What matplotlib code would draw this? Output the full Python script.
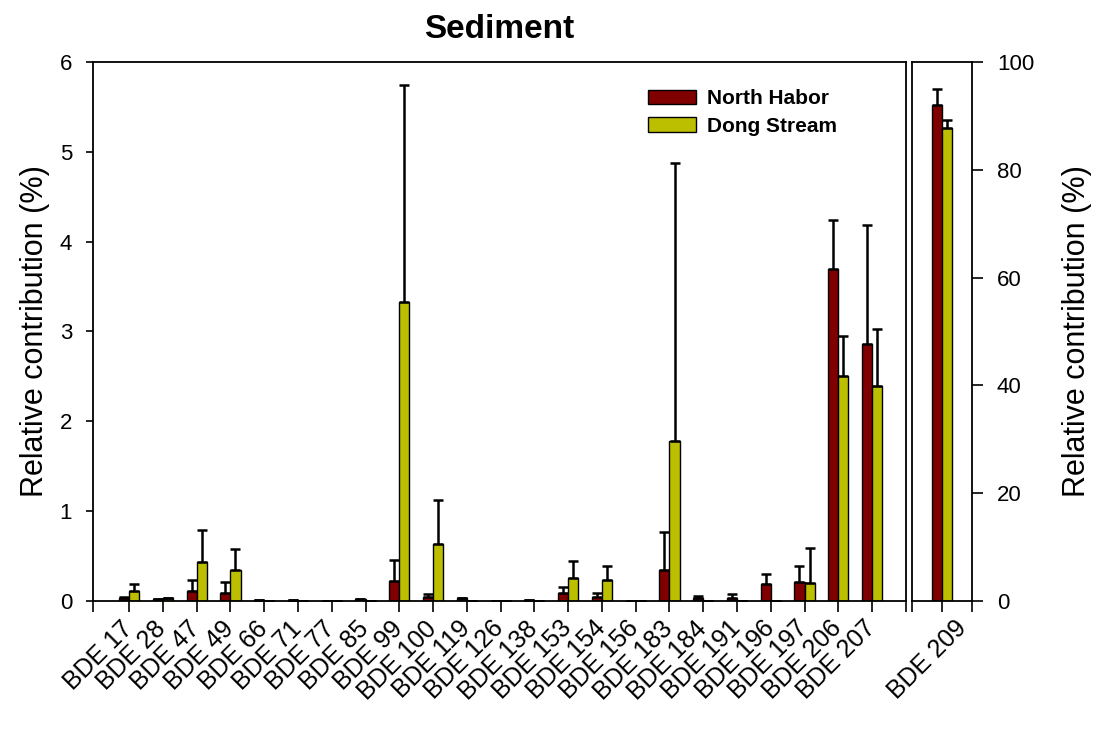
import numpy as np
import matplotlib
matplotlib.use("Agg")
import matplotlib.pyplot as plt
import matplotlib.transforms as mtransforms

plt.rcParams['font.family'] = ['Liberation Sans', 'DejaVu Sans']

congeners = ["BDE 17", "BDE 28", "BDE 47", "BDE 49", "BDE 66", "BDE 71", "BDE 77",
             "BDE 85", "BDE 99", "BDE 100", "BDE 119", "BDE 126", "BDE 138", "BDE 153",
             "BDE 154", "BDE 156", "BDE 183", "BDE 184", "BDE 191", "BDE 196", "BDE 197",
             "BDE 206", "BDE 207"]
north_habor = [0.03, 0.02, 0.11, 0.085, 0.01, 0.01, 0.0, 0.02, 0.22, 0.04, 0.03, 0.0,
               0.01, 0.085, 0.05, 0.0, 0.34, 0.03, 0.03, 0.19, 0.21, 3.69, 2.86]
north_habor_err = [0.02, 0.0, 0.12, 0.125, 0.0, 0.0, 0.0, 0.0, 0.24, 0.035, 0.0, 0.0,
                   0.0, 0.075, 0.04, 0.0, 0.43, 0.03, 0.05, 0.11, 0.18, 0.55, 1.33]
dong_stream = [0.11, 0.03, 0.43, 0.35, 0.0, 0.0, 0.0, 0.0, 3.33, 0.64, 0.0, 0.0,
               0.0, 0.26, 0.23, 0.0, 1.78, 0.0, 0.0, 0.0, 0.20, 2.50, 2.39]
dong_stream_err = [0.08, 0.0, 0.36, 0.23, 0.0, 0.0, 0.0, 0.0, 2.41, 0.48, 0.0, 0.0,
                   0.0, 0.18, 0.16, 0.0, 3.10, 0.0, 0.0, 0.0, 0.39, 0.45, 0.64]

big_label = ["BDE 209"]
big_north = [92.0]
big_north_err = [2.9]
big_dong = [87.7]
big_dong_err = [1.5]

red = '#800000'
green = '#bcbf00'
w = 0.3

fig = plt.figure(figsize=(10.94, 7.52), dpi=100)
ax = fig.add_axes([0.085, 0.2008, 0.743, 0.7168])
ax2 = fig.add_axes([0.8336, 0.2008, 0.0548, 0.7168])

x = np.arange(len(congeners))
ekw = dict(elinewidth=1.8, capthick=1.8, ecolor='black')
ax.bar(x - w / 2, north_habor, w, color=red, edgecolor='black', linewidth=1,
       yerr=[np.zeros(len(x)), north_habor_err], capsize=3.6, error_kw=ekw, label='North Habor')
ax.bar(x + w / 2, dong_stream, w, color=green, edgecolor='black', linewidth=1,
       yerr=[np.zeros(len(x)), dong_stream_err], capsize=3.6, error_kw=ekw, label='Dong Stream')
ax.set_xlim(-1.07, 23.0)
ax.set_ylim(0, 6)
ax.set_xticks(x)
ax.set_xticklabels(congeners, rotation=45, ha='right', va='top', rotation_mode='anchor', fontsize=18)
ax.set_xticks([-1.07, 23.0], minor=True)
ax.tick_params(axis='y', labelsize=16, direction='out', length=5, width=1.2, pad=10)
ax.tick_params(axis='x', which='both', direction='out', length=8, width=1.2, pad=3)
ax.set_ylabel('Relative contribution (%)', fontsize=22, labelpad=7)
ax.set_title('Sediment', fontsize=24, fontweight='bold', x=0.5, pad=17)
for s in ax.spines.values():
    s.set_linewidth(1.3)
shift = mtransforms.ScaledTranslation(-9 / 100, 0, fig.dpi_scale_trans)
for lab in ax.get_xticklabels():
    lab.set_transform(lab.get_transform() + shift)

x2 = np.arange(len(big_label))
ax2.bar(x2 - w / 2, big_north, w, color=red, edgecolor='black', linewidth=1,
        yerr=[[0], big_north_err], capsize=3.6, error_kw=ekw)
ax2.bar(x2 + w / 2, big_dong, w, color=green, edgecolor='black', linewidth=1,
        yerr=[[0], big_dong_err], capsize=3.6, error_kw=ekw)
ax2.set_xlim(-0.9, 0.9)
ax2.set_ylim(0, 100)
ax2.set_xticks(x2)
ax2.set_xticklabels(big_label, rotation=45, ha='right', va='top', rotation_mode='anchor', fontsize=18)
ax2.set_xticks([-0.9, 0.9], minor=True)
ax2.yaxis.tick_right()
ax2.yaxis.set_label_position('right')
ax2.set_yticks([0, 20, 40, 60, 80, 100])
ax2.tick_params(axis='y', labelsize=16, direction='out', length=8, width=1.2, pad=10)
ax2.tick_params(axis='x', which='both', direction='out', length=8, width=1.2, pad=3)
ax2.set_ylabel('Relative contribution (%)', fontsize=22, labelpad=20)
for s in ax2.spines.values():
    s.set_linewidth(1.3)
shift2 = mtransforms.ScaledTranslation(12 / 100, 0, fig.dpi_scale_trans)
for lab in ax2.get_xticklabels():
    lab.set_transform(lab.get_transform() + shift2)

ax.legend(loc='upper left', bbox_to_anchor=(638 / 1094, 1 - 79 / 752),
          bbox_transform=fig.transFigure, frameon=False,
          prop={'size': 15, 'weight': 'bold'}, handlelength=2.3, handleheight=0.7,
          handletextpad=0.5, labelspacing=0.4, borderpad=0)

fig.savefig('out.png', dpi=100)
